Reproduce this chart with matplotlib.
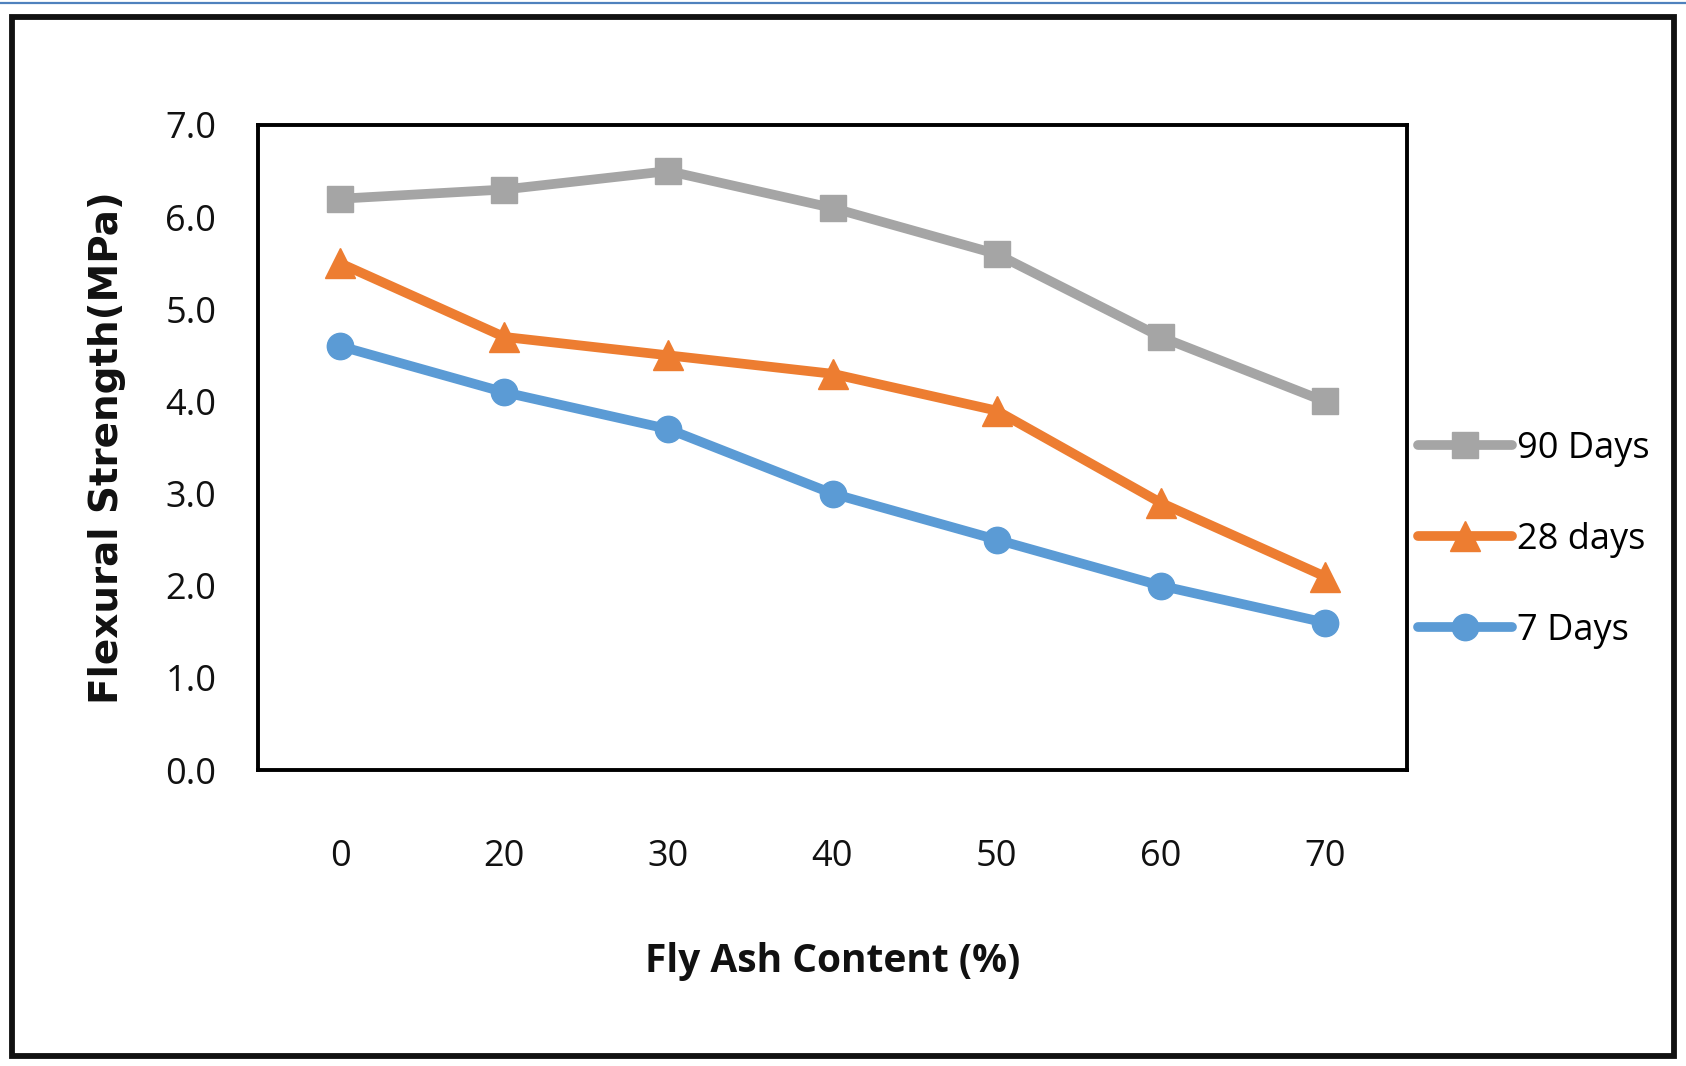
import matplotlib
matplotlib.use("Agg")
import matplotlib.pyplot as plt
from matplotlib.patches import Rectangle
from matplotlib.lines import Line2D

categories = ["0", "20", "30", "40", "50", "60", "70"]
days90 = [6.2, 6.3, 6.5, 6.1, 5.6, 4.7, 4.0]
days28 = [5.5, 4.7, 4.5, 4.3, 3.9, 2.9, 2.1]
days7 = [4.6, 4.1, 3.7, 3.0, 2.5, 2.0, 1.6]
yticks = [0.0, 1.0, 2.0, 3.0, 4.0, 5.0, 6.0, 7.0]

plt.rcParams['font.family'] = ['Open Sans', 'DejaVu Sans']

W, H = 1686, 1066
fig = plt.figure(figsize=(W / 100, H / 100), dpi=100)
fig.patch.set_facecolor('white')

# outer frame and top blue rule
fig.add_artist(Rectangle((12 / W, 1 - 1056 / H), (1674 - 12) / W, (1056 - 17) / H,
                         transform=fig.transFigure, fill=False, edgecolor='#111111', lw=4.2))
fig.add_artist(Line2D([0, 1], [1 - 3 / H, 1 - 3 / H], transform=fig.transFigure,
                      color='#4F81BD', lw=1.6))

ax = fig.add_axes([258 / W, 1 - 770 / H, (1407 - 258) / W, (770 - 125) / H])
x = list(range(len(categories)))

ax.plot(x, days90, color='#A5A5A5', lw=7, marker='s', ms=19, label='90 Days',
        solid_capstyle='round')
ax.plot(x, days28, color='#ED7D31', lw=7, marker='^', ms=21, label='28 days',
        solid_capstyle='round')
ax.plot(x, days7, color='#5B9BD5', lw=7, marker='o', ms=19, label='7 Days',
        solid_capstyle='round')

ax.set_xlim(-0.5, len(categories) - 0.5)
ax.set_ylim(0, 7)
ax.set_xticks(x)
ax.set_xticklabels(categories)
ax.set_yticks(yticks)
ax.set_yticklabels([f"{v:.1f}" for v in yticks])
ax.tick_params(axis='both', length=0, labelsize=26, colors='#111111')
ax.tick_params(axis='y', pad=30)
ax.tick_params(axis='x', pad=50)
for s in ax.spines.values():
    s.set_linewidth(2.8)
    s.set_color('#000000')

ax.set_xlabel('Fly Ash Content (%)', fontsize=28, fontweight='bold', labelpad=48,
              color='#111111')
ax.set_ylabel('Flexural Strength(MPa)', fontsize=28, fontweight='bold', labelpad=28,
              color='#111111', family=['DejaVu Sans'])

leg = fig.legend(loc='center left', bbox_to_anchor=(1418 / W, 1 - 540 / H),
                 frameon=False, fontsize=26, handlelength=2.6, handletextpad=0.15,
                 labelspacing=1.52, borderpad=0, borderaxespad=0)

fig.savefig('out.png', dpi=100, facecolor='white')
